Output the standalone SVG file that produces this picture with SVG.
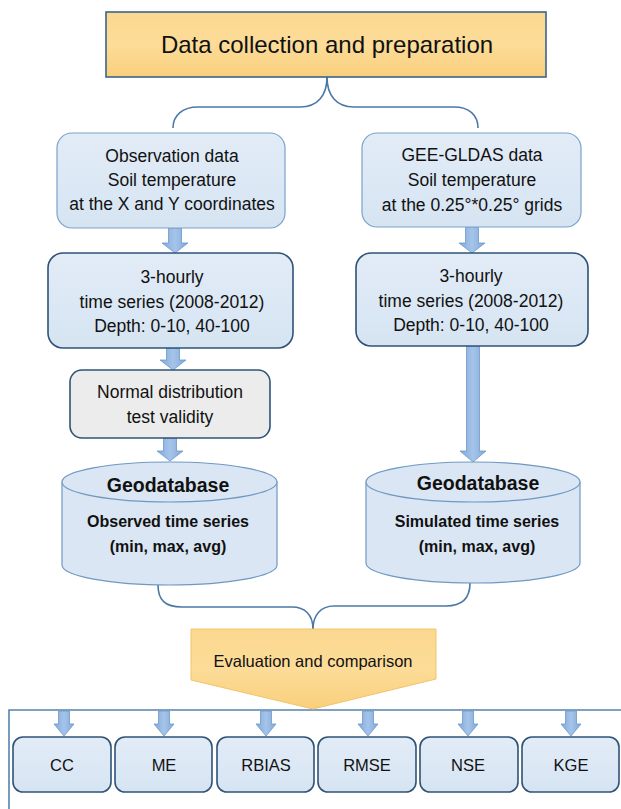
<svg xmlns="http://www.w3.org/2000/svg" width="621" height="809" viewBox="0 0 621 809">
<defs>
<linearGradient id="gOrange" x1="0" y1="0" x2="0" y2="1">
<stop offset="0" stop-color="#fbd890"/><stop offset="0.5" stop-color="#fcdc98"/><stop offset="1" stop-color="#f9cf7c"/>
</linearGradient>
<linearGradient id="gBlue" x1="0" y1="0" x2="0" y2="1">
<stop offset="0" stop-color="#e2ecf7"/><stop offset="1" stop-color="#d6e4f2"/>
</linearGradient>
<linearGradient id="gArrow" x1="0" y1="0" x2="1" y2="0">
<stop offset="0" stop-color="#7fa9da"/><stop offset="0.5" stop-color="#a6c4ea"/><stop offset="1" stop-color="#7fa9da"/>
</linearGradient>
</defs>
<style>
text{font-family:"Liberation Sans",Arial,sans-serif;fill:#111;text-anchor:middle}
.t{font-size:17.5px}
.lbl{font-size:16.5px}
.geo{font-size:19.5px;font-weight:bold}
.geo2{font-size:16px;font-weight:bold}
.light{fill:url(#gBlue);stroke:#7aa2cb;stroke-width:1.2}
.dark{fill:url(#gBlue);stroke:#2f5376;stroke-width:1.6}
.grey{fill:#ececec;stroke:#2f5376;stroke-width:1.6}
.cyl{fill:#dae6f3;stroke:#6f98c3;stroke-width:1.2}
.arr{fill:url(#gArrow);stroke:#6f98c8;stroke-width:0.8}
.brace{fill:none;stroke:#4b79a6;stroke-width:1.6}
</style>
<rect width="621" height="809" fill="#ffffff"/>

<g id="connectors">
<path class="brace" d="M327,77 C327,95 318,107 300,107 L198,107 C183,107 173,115 173,128"/>
<path class="brace" d="M327,77 C327,95 336,107 354,107 L454,107 C469,107 478,115 478,128"/>
<path class="brace" d="M158,585 C158,600 165,607 182,607 L292,607 C305,607 313,615 313,629"/>
<path class="brace" d="M470,583 C470,598 463,606 446,606 L334,606 C321,606 313,615 313,629"/>
<path d="M9,809 L9,710 L621,710" fill="none" stroke="#5583b0" stroke-width="1.6"/>
<polygon class="arr" points="168.5,228 181.5,228 181.5,243 188,243 175,253 162,243 168.5,243"/>
<polygon class="arr" points="166.5,348 179.5,348 179.5,360 186,360 173,370 160,360 166.5,360"/>
<polygon class="arr" points="163.5,438 176.5,438 176.5,451 183,451 170,461 157,451 163.5,451"/>
<polygon class="arr" points="465.5,227 478.5,227 478.5,243 485,243 472,253 459,243 465.5,243"/>
<polygon class="arr" points="466.5,346 479.5,346 479.5,451 486,451 473,462 460,451 466.5,451"/>
<polygon class="arr" points="58.5,711 69.5,711 69.5,724 74,724 64,736 54,724 58.5,724"/>
<polygon class="arr" points="158.5,711 169.5,711 169.5,724 174,724 164,736 154,724 158.5,724"/>
<polygon class="arr" points="260.5,711 271.5,711 271.5,724 276,724 266,736 256,724 260.5,724"/>
<polygon class="arr" points="362.5,711 373.5,711 373.5,724 378,724 368,736 358,724 362.5,724"/>
<polygon class="arr" points="462.5,711 473.5,711 473.5,724 478,724 468,736 458,724 462.5,724"/>
<polygon class="arr" points="565.5,711 576.5,711 576.5,724 581,724 571,736 561,724 565.5,724"/>
</g>

<g id="title">
<rect x="106" y="12" width="440" height="65" fill="url(#gOrange)" stroke="#3a6590" stroke-width="1.6"/>
<text x="327" y="53" style="font-size:24px">Data collection and preparation</text>
</g>

<g id="obs">
<rect class="light" x="57" y="133" width="228" height="95" rx="15"/>
<text class="t" x="172" y="162">Observation data</text>
<text class="t" x="172" y="186">Soil temperature</text>
<text class="t" x="172" y="210">at the X and Y coordinates</text>
</g>

<g id="gee">
<rect class="light" x="362" y="133" width="219" height="94" rx="15"/>
<text class="t" x="472" y="161">GEE-GLDAS data</text>
<text class="t" x="472" y="186">Soil temperature</text>
<text class="t" x="472" y="211">at the 0.25°*0.25° grids</text>
</g>

<g id="ts-left">
<rect class="dark" x="48" y="253" width="245" height="95" rx="15"/>
<text class="t" x="172" y="283">3-hourly</text>
<text class="t" x="172" y="308">time series (2008-2012)</text>
<text class="t" x="172" y="332">Depth: 0-10, 40-100</text>
</g>

<g id="ts-right">
<rect class="dark" x="356" y="253" width="232" height="93" rx="15"/>
<text class="t" x="471" y="282">3-hourly</text>
<text class="t" x="471" y="307">time series (2008-2012)</text>
<text class="t" x="471" y="331">Depth: 0-10, 40-100</text>
</g>

<g id="normal">
<rect class="grey" x="70" y="370" width="200" height="68" rx="12"/>
<text class="t" x="170" y="398">Normal distribution</text>
<text class="t" x="170" y="423">test validity</text>
</g>

<g id="geo-left">
<path class="cyl" d="M62,482 L62,565 A107.5,20 0 0 0 277,565 L277,482"/>
<ellipse class="cyl" cx="169.5" cy="482" rx="107.5" ry="20"/>
<text class="geo" x="168" y="492">Geodatabase</text>
<text class="geo2" x="168" y="527">Observed time series</text>
<text class="geo2" x="168" y="552">(min, max, avg)</text>
</g>

<g id="geo-right">
<path class="cyl" d="M366,482 L366,563 A107,20 0 0 0 580,563 L580,482"/>
<ellipse class="cyl" cx="473" cy="482" rx="107" ry="20"/>
<text class="geo" x="478" y="490">Geodatabase</text>
<text class="geo2" x="477" y="527">Simulated time series</text>
<text class="geo2" x="477" y="552">(min, max, avg)</text>
</g>

<g id="evaluation">
<polygon points="191,629 436,629 436,679 313,709 191,680" fill="url(#gOrange)" stroke="#f2c468" stroke-width="1"/>
<text x="313" y="667" style="font-size:16.5px">Evaluation and comparison</text>
</g>

<g id="cc"><rect class="dark" x="13" y="737" width="98" height="55" rx="10"/><text class="lbl" x="62" y="771">CC</text></g>
<g id="me"><rect class="dark" x="115" y="737" width="97" height="55" rx="10"/><text class="lbl" x="164" y="771">ME</text></g>
<g id="rbias"><rect class="dark" x="217" y="737" width="97" height="55" rx="10"/><text class="lbl" x="266" y="771">RBIAS</text></g>
<g id="rmse"><rect class="dark" x="318" y="737" width="98" height="55" rx="10"/><text class="lbl" x="367" y="771">RMSE</text></g>
<g id="nse"><rect class="dark" x="420" y="737" width="98" height="55" rx="10"/><text class="lbl" x="468" y="771">NSE</text></g>
<g id="kge"><rect class="dark" x="522" y="737" width="97" height="55" rx="10"/><text class="lbl" x="571" y="771">KGE</text></g>
</svg>
